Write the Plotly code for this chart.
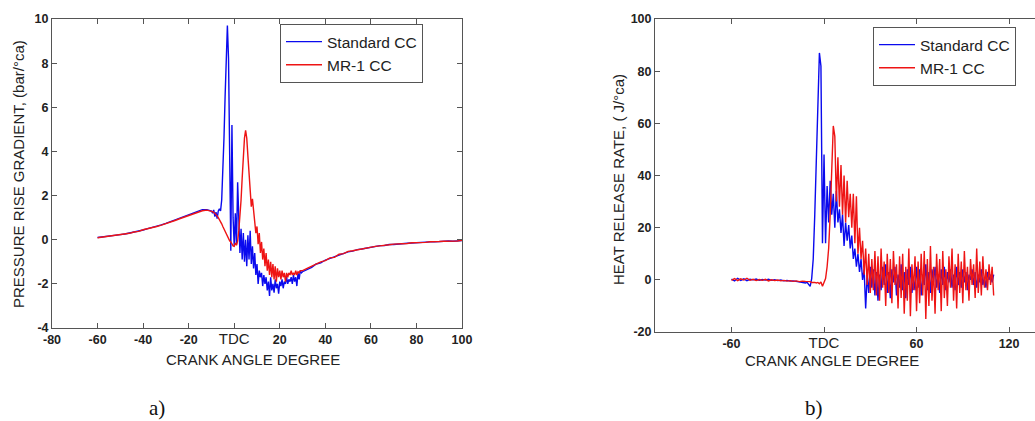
import plotly.graph_objects as go

# ---------------- (a) pressure rise gradient, bar/°ca ----------------
# crank-angle sampling: coarse before ignition, fine through combustion, coarse in expansion
prg_angle_early = list(range(-60, -11, 2))            # -60 .. -12
prg_angle_comb = [a / 2 for a in range(-20, 60)]       # -10 .. 29.5
prg_angle_late = list(range(30, 101, 2))               # 30 .. 100

prg_std_early = [0.10, 0.12, 0.14, 0.17, 0.20, 0.23, 0.26, 0.30, 0.34, 0.39, 0.44, 0.50, 0.55,
                 0.61, 0.67, 0.74, 0.82, 0.90, 0.98, 1.06, 1.14, 1.23, 1.31, 1.36, 1.36]
prg_mr1_early = [0.09, 0.12, 0.15, 0.16, 0.21, 0.22, 0.27, 0.29, 0.35, 0.38, 0.45, 0.49, 0.56,
                 0.60, 0.66, 0.72, 0.80, 0.87, 0.95, 1.02, 1.10, 1.18, 1.26, 1.31, 1.34]

prg_std_comb = [1.30, 1.20, 1.35, 1.05, 1.25, 0.95, 1.30, 1.40, 1.30,
                1.8, 3.0, 4.6, 6.5, 8.6, 9.7, 8.2, 3.2, -0.5,
                5.2, 1.0, -0.3, 1.2, -0.2, 2.6, 1.0, -0.6, 0.5,
                -0.9, 0.3, -1.0, 0.0, -1.2, 0.2, -0.9, 0.4, -1.1,
                -0.3, -1.3, -0.6, -1.6, -1.1, -2.0, -1.4, -1.7, -1.5,
                -2.1, -1.6, -2.0, -1.7, -2.3, -1.9, -2.55, -1.7, -2.3,
                -2.0, -2.4, -1.8, -2.2, -2.0, -2.45, -1.9, -2.1, -1.8,
                -2.2, -1.9, -2.0, -1.7, -2.0, -1.8, -1.9, -1.7, -2.0,
                -1.6, -1.9, -1.7, -2.1, -1.5, -1.8, -1.4, -1.5]
prg_mr1_comb = [1.30, 1.27, 1.24, 1.20, 1.15, 1.08, 1.00, 0.92, 0.82,
                0.72, 0.60, 0.48, 0.36, 0.25, 0.15, 0.05, -0.05, -0.10,
                -0.20, -0.28, -0.30, -0.15, -0.25, -0.05, 0.4, 1.0, 1.8,
                2.8, 3.8, 4.6, 4.95, 4.6, 3.8, 3.0, 2.3, 1.5,
                1.85, 1.4, 0.9, 0.3, 0.6, -0.2, 0.3, -0.6, -0.1,
                -0.9, -0.4, -1.2, -0.6, -1.4, -0.9, -1.6, -1.0, -1.7,
                -1.1, -1.8, -1.2, -1.9, -1.3, -1.7, -1.4, -1.8, -1.4,
                -1.7, -1.5, -1.9, -1.5, -1.7, -1.5, -1.6, -1.4, -1.6,
                -1.5, -1.6, -1.4, -1.6, -1.45, -1.5, -1.4, -1.4]

prg_std_late = [-1.45, -1.35, -1.25, -1.10, -1.05, -0.92, -0.85, -0.78, -0.68, -0.62, -0.55, -0.52,
                -0.45, -0.42, -0.38, -0.33, -0.32, -0.27, -0.26, -0.22, -0.22, -0.19, -0.18, -0.16,
                -0.15, -0.13, -0.13, -0.11, -0.10, -0.10, -0.08, -0.09, -0.06, -0.07, -0.05, -0.04]
prg_mr1_late = [-1.40, -1.30, -1.20, -1.12, -1.00, -0.95, -0.82, -0.80, -0.66, -0.63, -0.53, -0.50,
                -0.46, -0.40, -0.37, -0.35, -0.30, -0.28, -0.24, -0.23, -0.20, -0.20, -0.17, -0.17,
                -0.14, -0.14, -0.12, -0.12, -0.09, -0.10, -0.08, -0.07, -0.07, -0.05, -0.06, -0.03]

prg_ticks = [-80, -60, -40, -20, 0, 20, 40, 60, 80, 100]
prg_yticks = [-4, -2, 0, 2, 4, 6, 8, 10]

# ---------------- (b) heat release rate, J/°ca ----------------
hrr_angle_early = list(range(-60, -11, 2))             # -60 .. -12
hrr_angle_main = list(range(-11, 111))                 # -11 .. 110

hrr_std_early = [0.3, -0.4, 0.6, -0.2, 0.4, -0.3, 0.2, 0.0, 0.3, -0.2, 0.1, -0.1, 0.2,
                 -0.2, 0.0, -0.3, -0.1, -0.4, -0.2, -0.5, -0.4, -0.6, -0.8, -1.0, -1.2]
hrr_mr1_early = [-0.2, 0.5, -0.3, 0.4, -0.1, 0.6, -0.2, 0.2, -0.3, 0.1, -0.2, 0.2, -0.4,
                 0.0, -0.3, -0.1, -0.4, -0.2, -0.5, -0.3, -0.6, -0.4, -0.7, -0.5, -0.6]

hrr_std_main = [-1.0, -1.8, -2.5, 0.5, 8, 25, 45, 65, 87, 82, 14, 48,
                14, 36, 22, 38, 25, 33, 20, 34, 22, 27,
                18, 25, 13, 22, 15, 21, 12, 17, 8, 12,
                5, 10, 3, 8, 0, 4, -11, 2, -5, 5,
                -3, 4, -6, 3, -8, 2, -4, 5, -2, 6,
                -5, 3, -7, 4, -1, 5, -6, 2, -3, 6,
                -4, 3, -7, 4, -2, 5, -5, 1, -4, 5,
                -3, 4, -6, 2, -2, 6, -4, 3, -5, 4,
                -1, 5, -3, 2, -5, 4, -2, 5, -4, 3,
                -1, 4, -3, 2, -4, 5, -2, 3, -3, 4,
                -1, 3, -4, 2, 0, 4, -2, 3, -3, 2,
                -1, 4, -2, 1, -3, 3, 0, 2, -1, 2]
hrr_mr1_main = [-0.6, -0.8, -0.7, -1.0, -0.9, -1.0, -1.2, -1.0, -1.5, -0.8, -2.5, -1.0,
                0.5, 5, 12, 25, 45, 59, 55, 30, 47, 28,
                44, 25, 40, 22, 38, 24, 33, 20, 33, 14,
                32, 10, 20, 8, 15, 2, 12, -2, 10, -5,
                8, -4, 11, -6, 9, -8, 12, -3, 7, -10,
                10, -5, 8, -9, 11, -2, 6, -11, 9, -7,
                10, -13, 5, -8, 12, -14, 6, -4, 9, -12,
                7, -9, 10, -6, 11, -15, 8, -10, 13, -8,
                5, -13, 10, -4, 8, -12, 11, -7, 4, -10,
                9, -3, 12, -8, 6, -11, 10, -5, 7, -9,
                11, -4, 5, -8, 8, -2, 6, -7, 12, -5,
                7, -6, 9, -3, 4, -4, 6, -2, 5, -6]

hrr_ticks = [-60, 0, 60, 120]
hrr_yticks = [-20, 0, 20, 40, 60, 80, 100]

series_names = ["Standard CC", "MR-1 CC"]
series_colors = ["#0a0aee", "#ee1414"]

# ---------------- figure ----------------
W, H = 1035, 421
FONT = "Arial, Liberation Sans, sans-serif"
FRAME = "#555555"
TEXT = "#222222"


def px_x(p):
    return p / W


def px_y(p):
    return 1 - p / H


def tick_text(vals):
    return ["<span style='font-size:15px'>TDC</span>" if v == 0 else f"<b>{v}</b>" for v in vals]


fig = go.Figure()

left_x = prg_angle_early + prg_angle_comb + prg_angle_late
left_std = prg_std_early + prg_std_comb + prg_std_late
left_mr1 = prg_mr1_early + prg_mr1_comb + prg_mr1_late
for name, color, ys in zip(series_names, series_colors, [left_std, left_mr1]):
    fig.add_trace(go.Scatter(x=left_x, y=ys, mode="lines", name=name,
                             line=dict(color=color, width=1.4),
                             xaxis="x", yaxis="y", legend="legend"))

right_x = hrr_angle_early + hrr_angle_main
right_std = hrr_std_early + hrr_std_main
right_mr1 = hrr_mr1_early + hrr_mr1_main
for name, color, ys in zip(series_names, series_colors, [right_std, right_mr1]):
    fig.add_trace(go.Scatter(x=right_x, y=ys, mode="lines", name=name,
                             line=dict(color=color, width=1.4),
                             xaxis="x2", yaxis="y2", legend="legend2"))

axis_common = dict(showgrid=False, zeroline=False, showline=True, linecolor=FRAME, linewidth=1,
                   ticks="inside", ticklen=5, tickcolor=FRAME, tickwidth=1, automargin=False,
                   tickfont=dict(family=FONT, size=12.5, color=TEXT))

legend_common = dict(xanchor="left", yanchor="top", bgcolor="white", bordercolor=FRAME,
                     borderwidth=1, itemwidth=36, tracegroupgap=0,
                     font=dict(family=FONT, size=15.5, color=TEXT))

fig.update_layout(
    width=W, height=H,
    margin=dict(l=0, r=0, t=0, b=0, pad=0, autoexpand=False),
    paper_bgcolor="white", plot_bgcolor="white",
    font=dict(family=FONT, color=TEXT),
    xaxis=dict(domain=[px_x(52), px_x(462)], range=[-80, 100], anchor="y",
               tickmode="array", tickvals=prg_ticks, ticktext=tick_text(prg_ticks),
               mirror="ticks", **axis_common),
    yaxis=dict(domain=[px_y(328), px_y(19)], range=[-4, 10], anchor="x",
               tickmode="array", tickvals=prg_yticks, ticktext=[f"<b>{v}</b>" for v in prg_yticks],
               mirror="ticks", **axis_common),
    xaxis2=dict(domain=[px_x(655), 1.0], range=[-109.6, 136.8], anchor="y2",
                tickmode="array", tickvals=hrr_ticks, ticktext=tick_text(hrr_ticks),
                mirror="ticks", **axis_common),
    yaxis2=dict(domain=[px_y(332), px_y(19)], range=[-20, 100], anchor="x2",
                tickmode="array", tickvals=hrr_yticks, ticktext=[f"<b>{v}</b>" for v in hrr_yticks],
                mirror=False, **axis_common),
    legend=dict(x=px_x(280), y=px_y(24), **legend_common),
    legend2=dict(x=px_x(873), y=px_y(27), **legend_common),
    showlegend=True,
)

title_font = dict(family=FONT, size=15, color=TEXT)
centered = dict(xref="paper", yref="paper", xanchor="center", yanchor="middle", showarrow=False)
fig.add_annotation(text="PRESSURE RISE GRADIENT, (bar/°ca)", textangle=-90,
                   x=px_x(18), y=px_y(174), font=title_font, **centered)
fig.add_annotation(text="CRANK ANGLE DEGREE", x=px_x(253), y=px_y(359), font=title_font, **centered)
fig.add_annotation(text="HEAT RELEASE RATE, ( J/°ca)", textangle=-90,
                   x=px_x(618), y=px_y(180), font=title_font, **centered)
fig.add_annotation(text="CRANK ANGLE DEGREE", x=px_x(832), y=px_y(360), font=title_font, **centered)

caption_font = dict(family="Times New Roman, Liberation Serif, serif", size=21, color="#111111")
fig.add_annotation(text="a)", x=px_x(157), y=px_y(408), font=caption_font, **centered)
fig.add_annotation(text="b)", x=px_x(814), y=px_y(408), font=caption_font, **centered)

fig.write_html("out.html")
